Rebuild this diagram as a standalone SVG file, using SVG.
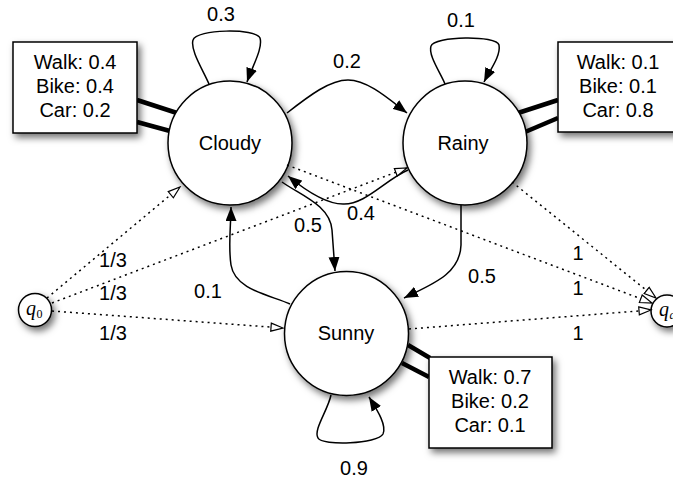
<svg xmlns="http://www.w3.org/2000/svg" width="673" height="480" viewBox="0 0 673 480">
<defs>
<filter id="sh" x="-30%" y="-30%" width="170%" height="170%">
<feDropShadow dx="3" dy="4" stdDeviation="3.5" flood-color="#000" flood-opacity="0.55"/>
</filter>
<marker id="solid" markerUnits="userSpaceOnUse" markerWidth="15" markerHeight="11" refX="14" refY="5.5" orient="auto">
<path d="M0,0 L14,5.5 L0,11 z" fill="#000"/>
</marker>
<marker id="open" markerUnits="userSpaceOnUse" markerWidth="15" markerHeight="11" refX="13" refY="5" orient="auto">
<path d="M1,1 L13,5 L1,9 z" fill="#fff" stroke="#000" stroke-width="1.2"/>
</marker>
</defs>
<style>
text{font-family:"Liberation Sans",Arial,sans-serif;font-size:20px;fill:#000;text-anchor:middle}
.st{fill:#fff;stroke:#000;stroke-width:1.5}
.box{fill:#fff;stroke:#000;stroke-width:1.5}
.sol{fill:none;stroke:#000;stroke-width:1.5;marker-end:url(#solid)}
.dot{fill:none;stroke:#000;stroke-width:1.5;stroke-dasharray:2 4;marker-end:url(#open)}
.dbl{stroke:#000;stroke-width:4.5;fill:none}
.q{font-family:"Liberation Serif","DejaVu Serif",serif;font-style:italic;font-size:20px;text-anchor:start}
.sub{font-family:"Liberation Serif","DejaVu Serif",serif;font-size:12px;text-anchor:start}
</style>
<rect width="673" height="480" fill="#fff"/>

<g id="emissions-links">
<line class="dbl" x1="137" y1="100" x2="177" y2="113"/>
<line class="dbl" x1="137" y1="122" x2="170" y2="131"/>
<line class="dbl" x1="558" y1="100" x2="518" y2="113"/>
<line class="dbl" x1="558" y1="118" x2="525" y2="132"/>
<line class="dbl" x1="408" y1="345" x2="430" y2="358"/>
<line class="dbl" x1="402" y1="363" x2="429" y2="377"/>
</g>

<g id="cloudy">
<circle class="st" cx="230" cy="143" r="62" filter="url(#sh)"/>
<text x="230" y="150">Cloudy</text>
</g>
<g id="rainy">
<circle class="st" cx="465" cy="143" r="62" filter="url(#sh)"/>
<text x="463" y="150">Rainy</text>
</g>
<g id="sunny">
<circle class="st" cx="346.5" cy="333.5" r="62" filter="url(#sh)"/>
<text x="346" y="340">Sunny</text>
</g>
<g id="q0">
<circle class="st" cx="35" cy="310" r="16.5" filter="url(#sh)"/>
<text class="q" x="26" y="315">q</text><text class="sub" x="36.5" y="318">0</text>
</g>
<g id="qa">
<circle class="st" cx="667" cy="311" r="16" filter="url(#sh)"/>
<text class="q" x="659" y="316">q</text><text class="sub" x="669.5" y="319" font-style="italic">a</text>
</g>
<g id="cloudy-emission">
<rect class="box" x="13" y="42" width="124" height="91" filter="url(#sh)"/>
<text x="75" y="69">Walk: 0.4</text>
<text x="75" y="93">Bike: 0.4</text>
<text x="75" y="117">Car: 0.2</text>
</g>
<g id="rainy-emission">
<rect class="box" x="558" y="42" width="124" height="90" filter="url(#sh)"/>
<text x="618" y="69">Walk: 0.1</text>
<text x="618" y="93">Bike: 0.1</text>
<text x="618" y="117">Car: 0.8</text>
</g>
<g id="sunny-emission">
<rect class="box" x="429" y="357" width="123" height="91" filter="url(#sh)"/>
<text x="490" y="384">Walk: 0.7</text>
<text x="490" y="408">Bike: 0.2</text>
<text x="490" y="432">Car: 0.1</text>
</g>

<g id="connectors">
<path class="sol" d="M209,84 C203,70 190,50 193,40 C196,29 256,28 260,38 C263,48 253,65 247,82"/>
<path class="sol" d="M445,84 C440,72 428,55 431,46 C434,36 497,35 499,45 C501,56 490,70 484,82"/>
<path class="sol" d="M331,395 C328,410 313,430 318,438 C322,446 378,444 383,434 C387,425 377,410 369,397"/>
<path class="sol" d="M287,113 C310,95 330,80 348,80 C368,80 390,100 407,113"/>
<path class="sol" d="M408,170 C385,180 365,205 343,204 C325,204 305,190 288,176"/>
<path class="sol" d="M282,182 C300,195 330,205 332,230 L335,271"/>
<path class="sol" d="M290,304 C270,295 235,290 231,265 C228,245 231,225 231,207"/>
<path class="sol" d="M461,205 L461,245 C460,275 430,285 404,298"/>
<path class="dot" d="M47,298 L180,187"/>
<path class="dot" d="M52,303 L407,168"/>
<path class="dot" d="M52,311 L283,328"/>
<path class="dot" d="M287,165 L652,303"/>
<path class="dot" d="M512,182 L656,298"/>
<path class="dot" d="M409,329 L651,310"/>
</g>

<g id="labels">
<text x="221" y="21">0.3</text>
<text x="461" y="27">0.1</text>
<text x="347" y="68">0.2</text>
<text x="361" y="220">0.4</text>
<text x="308" y="232">0.5</text>
<text x="208" y="298">0.1</text>
<text x="482" y="283">0.5</text>
<text x="354" y="475">0.9</text>
<text x="113" y="267">1/3</text>
<text x="113" y="300">1/3</text>
<text x="113" y="340">1/3</text>
<text x="578" y="260">1</text>
<text x="578" y="295">1</text>
<text x="578" y="340">1</text>
</g>
</svg>
